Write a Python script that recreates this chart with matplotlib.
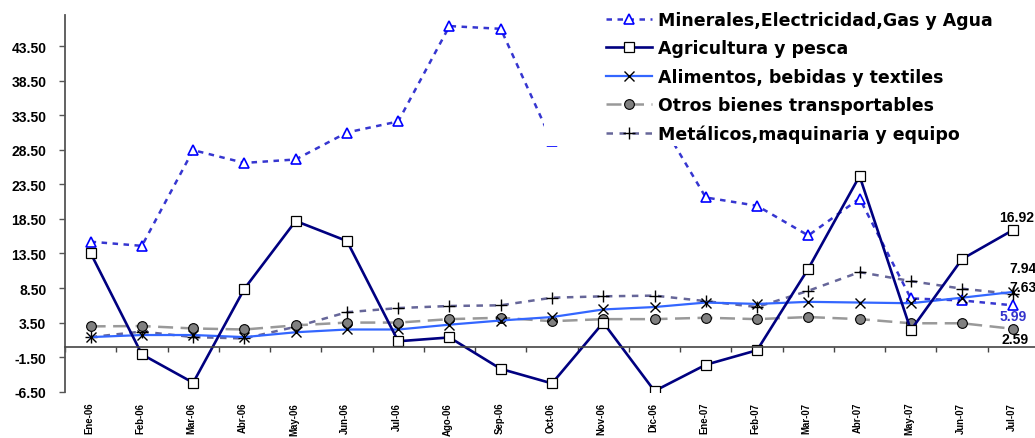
import matplotlib
matplotlib.use("Agg")
import matplotlib.pyplot as plt
import matplotlib.transforms as mtransforms
from matplotlib.patches import Rectangle
import numpy as np

months = ["Ene-06", "Feb-06", "Mar-06", "Abr-06", "May-06", "Jun-06", "Jul-06",
          "Ago-06", "Sep-06", "Oct-06", "Nov-06", "Dic-06", "Ene-07", "Feb-07",
          "Mar-07", "Abr-07", "May-07", "Jun-07", "Jul-07"]

minerales = [15.2, 14.6, 28.45, 26.6, 27.1, 31.0, 32.6, 46.4, 46.0, 29.7, 31.5, 34.1,
             21.6, 20.4, 16.1, 21.45, 7.0, 6.7, 5.99]
agricultura = [13.55, -1.1, -5.2, 8.4, 18.2, 15.3, 0.8, 1.35, -3.2, -5.3, 3.5, -6.4,
               -2.6, -0.5, 11.3, 24.7, 2.4, 12.7, 16.92]
alimentos = [1.4, 1.7, 1.7, 1.4, 2.1, 2.5, 2.5, 3.2, 3.8, 4.3, 5.4, 5.75,
             6.4, 6.2, 6.5, 6.4, 6.3, 7.1, 7.94]
otros = [2.95, 3.0, 2.65, 2.5, 3.1, 3.5, 3.5, 4.0, 4.2, 3.7, 4.0, 4.0,
         4.2, 4.0, 4.3, 4.0, 3.4, 3.4, 2.59]
metalicos = [1.4, 2.2, 1.4, 1.2, 2.9, 5.0, 5.6, 5.9, 6.0, 7.1, 7.3, 7.4,
             6.6, 5.75, 8.1, 10.8, 9.5, 8.4, 7.63]

series_names = ["Minerales,Electricidad,Gas y Agua", "Agricultura y pesca",
                "Alimentos, bebidas y textiles", "Otros bienes transportables",
                "Metálicos,maquinaria y equipo"]

yticks = [-6.5, -1.5, 3.5, 8.5, 13.5, 18.5, 23.5, 28.5, 33.5, 38.5, 43.5]

W, H = 1035, 439
fig = plt.figure(figsize=(W / 100, H / 100), dpi=100)
ax = fig.add_axes([65 / W, 1 - 392.7 / H, (1039 - 65) / W, (392.7 - 16) / H])

x = np.arange(len(months))

l1, = ax.plot(x, minerales, color="#3636D0", lw=1.8, ls=(0, (2.2, 2.2)),
              marker="^", ms=7.5, mfc="white", mec="#0000FF", mew=1.2, zorder=2.1)
l5, = ax.plot(x, metalicos, color="#666699", lw=1.8, ls=(0, (2.6, 2.6)),
              marker="+", ms=9, mec="black", mew=1.0, zorder=2.2)
l4, = ax.plot(x, otros, color="#999999", lw=1.8, ls=(0, (6, 3)),
              marker="o", ms=7, mfc="#808080", mec="black", mew=0.8, zorder=2.3)
l3, = ax.plot(x, alimentos, color="#3366FF", lw=1.6,
              marker="x", ms=7, mec="black", mew=1.0, zorder=2.4)
l2, = ax.plot(x, agricultura, color="#000080", lw=1.9,
              marker="s", ms=7, mfc="white", mec="black", mew=0.9, zorder=2.5)

ax.set_xlim(-0.5, len(months) - 0.5)
ax.set_ylim(-6.5, 48.0)

for s in ["top", "right"]:
    ax.spines[s].set_visible(False)
ax.spines["left"].set_color("#555555")
ax.spines["left"].set_linewidth(1.3)
ax.spines["bottom"].set_position(("data", 0))
ax.spines["bottom"].set_color("#444444")
ax.spines["bottom"].set_linewidth(1.2)

ax.set_yticks(yticks)
ax.set_yticklabels([f"{v:.2f}" for v in yticks], fontfamily="Liberation Sans",
                   fontweight="bold", fontsize=10)
ax.tick_params(axis="y", length=4.5, width=1, color="#555555", pad=9)

ax.set_xticks(x)
ax.set_xticklabels([])
ax.tick_params(axis="x", which="major", length=0)
ax.set_xticks(np.arange(-0.5, len(months)), minor=True)
ax.tick_params(axis="x", which="minor", length=3.5, width=1, color="#444444",
               direction="out")

trans = mtransforms.blended_transform_factory(ax.transData, ax.transAxes)
for i, m in enumerate(months):
    ax.text(i - 0.03, -0.027, m, transform=trans, rotation=90, ha="center", va="top",
            fontsize=6.9, fontweight="bold",
            family=["Liberation Sans Narrow", "Liberation Sans"])

lab_kw = dict(fontfamily="Liberation Sans", fontweight="bold", fontsize=10,
              textcoords="offset points", ha="center", va="center")
ax.annotate(f"{agricultura[-1]:.2f}", (x[-1], agricultura[-1]), xytext=(2, 9.5), **lab_kw)
ax.annotate(f"{alimentos[-1]:.2f}", (x[-1], alimentos[-1]), xytext=(7, 17.5), **lab_kw)
ax.annotate(f"{metalicos[-1]:.2f}", (x[-1], metalicos[-1]), xytext=(7, 5), **lab_kw)
ax.annotate(f"{minerales[-1]:.2f}", (x[-1], minerales[-1]), xytext=(0, -7.6),
            color="#3333CC", **lab_kw)
ax.annotate(f"{otros[-1]:.2f}", (x[-1], otros[-1]), xytext=(1.5, -7.2), **lab_kw)

bg = Rectangle((544 / W, 1 - 147 / H), 1 - 544 / W, 147 / H, transform=fig.transFigure,
               facecolor="white", edgecolor="none", zorder=4, clip_on=False)
ax.add_artist(bg)

leg = fig.legend([l1, l2, l3, l4, l5], series_names, loc="upper left",
                 bbox_to_anchor=(606 / W, 1 - 12 / H), frameon=False,
                 prop=dict(family="DejaVu Sans", weight="bold", size=12.5),
                 handlelength=2.65, handletextpad=0.35, labelspacing=0.6,
                 borderpad=0, borderaxespad=0)
leg.set_zorder(5)

fig.savefig("out.png", dpi=100)
